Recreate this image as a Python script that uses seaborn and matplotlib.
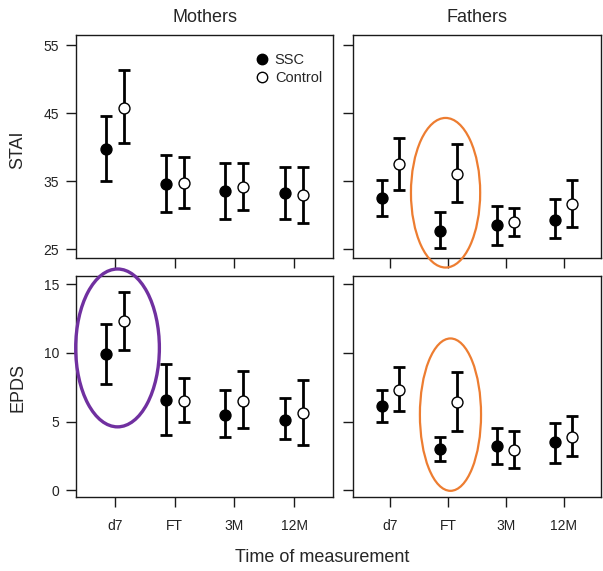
import numpy as np
import pandas as pd
import matplotlib
matplotlib.use("Agg")
import matplotlib.pyplot as plt
from matplotlib.patches import Ellipse
from matplotlib.lines import Line2D
import seaborn as sns

# ---------------- data ----------------
times = ["d7", "FT", "3M", "12M"]
groups = ["SSC", "Control"]

mothers_stai_ssc = [39.8, 34.6, 33.5, 33.2]
mothers_stai_ssc_lo = [35.0, 30.4, 29.4, 29.4]
mothers_stai_ssc_hi = [44.6, 38.9, 37.6, 37.1]
mothers_stai_ctl = [45.8, 34.8, 34.2, 32.9]
mothers_stai_ctl_lo = [40.6, 31.1, 30.8, 28.8]
mothers_stai_ctl_hi = [51.3, 38.6, 37.7, 37.1]

fathers_stai_ssc = [32.5, 27.7, 28.5, 29.3]
fathers_stai_ssc_lo = [29.9, 25.1, 25.6, 26.6]
fathers_stai_ssc_hi = [35.2, 30.4, 31.4, 32.4]
fathers_stai_ctl = [37.5, 36.1, 29.0, 31.7]
fathers_stai_ctl_lo = [33.7, 32.0, 26.9, 28.3]
fathers_stai_ctl_hi = [41.4, 40.4, 31.1, 35.2]

mothers_epds_ssc = [9.9, 6.6, 5.5, 5.1]
mothers_epds_ssc_lo = [7.7, 4.0, 3.9, 3.7]
mothers_epds_ssc_hi = [12.1, 9.2, 7.3, 6.7]
mothers_epds_ctl = [12.3, 6.5, 6.5, 5.6]
mothers_epds_ctl_lo = [10.2, 5.0, 4.5, 3.3]
mothers_epds_ctl_hi = [14.4, 8.2, 8.7, 8.0]

fathers_epds_ssc = [6.1, 3.0, 3.2, 3.5]
fathers_epds_ssc_lo = [5.0, 2.1, 1.9, 2.0]
fathers_epds_ssc_hi = [7.3, 3.9, 4.5, 4.9]
fathers_epds_ctl = [7.3, 6.4, 2.9, 3.9]
fathers_epds_ctl_lo = [5.8, 4.3, 1.6, 2.5]
fathers_epds_ctl_hi = [9.0, 8.6, 4.3, 5.4]

stai_ticks = [25, 35, 45, 55]
epds_ticks = [0, 5, 10, 15]

# ---------------- style ----------------
sns.set_style("ticks")
plt.rcParams["font.family"] = ["Liberation Sans", "DejaVu Sans"]
plt.rcParams["axes.edgecolor"] = "#1a1a1a"
plt.rcParams["axes.linewidth"] = 1.0

fig = plt.figure(figsize=(6.03, 5.71), dpi=100)

W, H = 603, 571
def pos(l, t, r, b):
    return [l / W, 1 - b / H, (r - l) / W, (b - t) / H]

ax_tl = fig.add_axes(pos(76, 35, 333, 258))
ax_tr = fig.add_axes(pos(353, 35, 601, 258))
ax_bl = fig.add_axes(pos(76, 276, 333, 497))
ax_br = fig.add_axes(pos(353, 276, 601, 497))

panels = [
    (ax_tl, mothers_stai_ssc, mothers_stai_ssc_lo, mothers_stai_ssc_hi,
     mothers_stai_ctl, mothers_stai_ctl_lo, mothers_stai_ctl_hi, "stai"),
    (ax_tr, fathers_stai_ssc, fathers_stai_ssc_lo, fathers_stai_ssc_hi,
     fathers_stai_ctl, fathers_stai_ctl_lo, fathers_stai_ctl_hi, "stai"),
    (ax_bl, mothers_epds_ssc, mothers_epds_ssc_lo, mothers_epds_ssc_hi,
     mothers_epds_ctl, mothers_epds_ctl_lo, mothers_epds_ctl_hi, "epds"),
    (ax_br, fathers_epds_ssc, fathers_epds_ssc_lo, fathers_epds_ssc_hi,
     fathers_epds_ctl, fathers_epds_ctl_lo, fathers_epds_ctl_hi, "epds"),
]

offset = 0.15
xbase = np.arange(1, len(times) + 1)

for ax, s, slo, shi, c, clo, chi, kind in panels:
    df = pd.DataFrame({
        "x": np.concatenate([xbase - offset, xbase + offset]),
        "mean": s + c,
        "lo": slo + clo,
        "hi": shi + chi,
        "group": ["SSC"] * 4 + ["Control"] * 4,
    })
    for g in groups:
        d = df[df["group"] == g]
        ax.errorbar(d["x"], d["mean"],
                    yerr=[d["mean"] - d["lo"], d["hi"] - d["mean"]],
                    fmt="none", ecolor="black", elinewidth=2.0,
                    capsize=4.5, capthick=2.0, zorder=2)
    sns.scatterplot(data=df[df["group"] == "SSC"], x="x", y="mean", ax=ax,
                    color="black", edgecolor="black", s=62, linewidth=1,
                    zorder=3, legend=False)
    sns.scatterplot(data=df[df["group"] == "Control"], x="x", y="mean", ax=ax,
                    color="white", edgecolor="black", s=62, linewidth=1,
                    zorder=3, legend=False)
    ax.set_xlim(0.35, 4.65)
    if kind == "stai":
        ax.set_ylim(23.7, 56.5)
        ax.set_yticks(stai_ticks)
    else:
        ax.set_ylim(-0.5, 15.6)
        ax.set_yticks(epds_ticks)
    ax.set_xticks(xbase)
    ax.set_xlabel("")
    ax.set_ylabel("")
    ax.tick_params(axis="both", direction="out", length=7, width=1,
                   color="#1a1a1a", labelsize=10, labelcolor="#222222",
                   bottom=True, left=True, top=False, right=False)
    ax.tick_params(axis="y", pad=5)
    ax.tick_params(axis="x", pad=9)
    for sp in ax.spines.values():
        sp.set_visible(True)
        sp.set_color("#1a1a1a")
        sp.set_linewidth(1.0)

for ax in (ax_tl, ax_tr):
    ax.set_xticklabels([])
for ax in (ax_bl, ax_br):
    ax.set_xticklabels(times)
for ax in (ax_tr, ax_br):
    ax.set_yticklabels([])

# highlight ellipses
ax_tr.add_patch(Ellipse((1.955, 33.3), 1.2, 22.0, fill=False,
                        edgecolor="#ED7D31", linewidth=1.6, clip_on=False, zorder=4))
ax_bl.add_patch(Ellipse((1.045, 10.36), 1.4, 11.5, fill=False,
                        edgecolor="#7030A0", linewidth=2.4, clip_on=False, zorder=4))
ax_br.add_patch(Ellipse((2.04, 5.5), 1.06, 11.1, fill=False,
                        edgecolor="#ED7D31", linewidth=1.6, clip_on=False, zorder=4))

# legend
handles = [
    Line2D([], [], linestyle="none", marker="o", markersize=7.5,
           markerfacecolor="black", markeredgecolor="black"),
    Line2D([], [], linestyle="none", marker="o", markersize=7.5,
           markerfacecolor="white", markeredgecolor="black"),
]
ax_tl.legend(handles, groups, loc="upper left", bbox_to_anchor=(0.66, 0.95),
             frameon=False, fontsize=10.5, handlelength=1.2, handletextpad=0.3,
             labelspacing=0.25, borderpad=0)

# titles and labels
fig.text(204.5 / W, 1 - 17 / H, "Mothers", ha="center", va="center", fontsize=13)
fig.text(477 / W, 1 - 17 / H, "Fathers", ha="center", va="center", fontsize=13)
fig.text(18 / W, 1 - 150 / H, "STAI", ha="center", va="center", rotation=90, fontsize=13)
fig.text(18 / W, 1 - 387 / H, "EPDS", ha="center", va="center", rotation=90, fontsize=13)
fig.text(322 / W, 1 - 558 / H, "Time of measurement", ha="center", va="center", fontsize=13)

fig.savefig("out.png", dpi=100, facecolor="white")
